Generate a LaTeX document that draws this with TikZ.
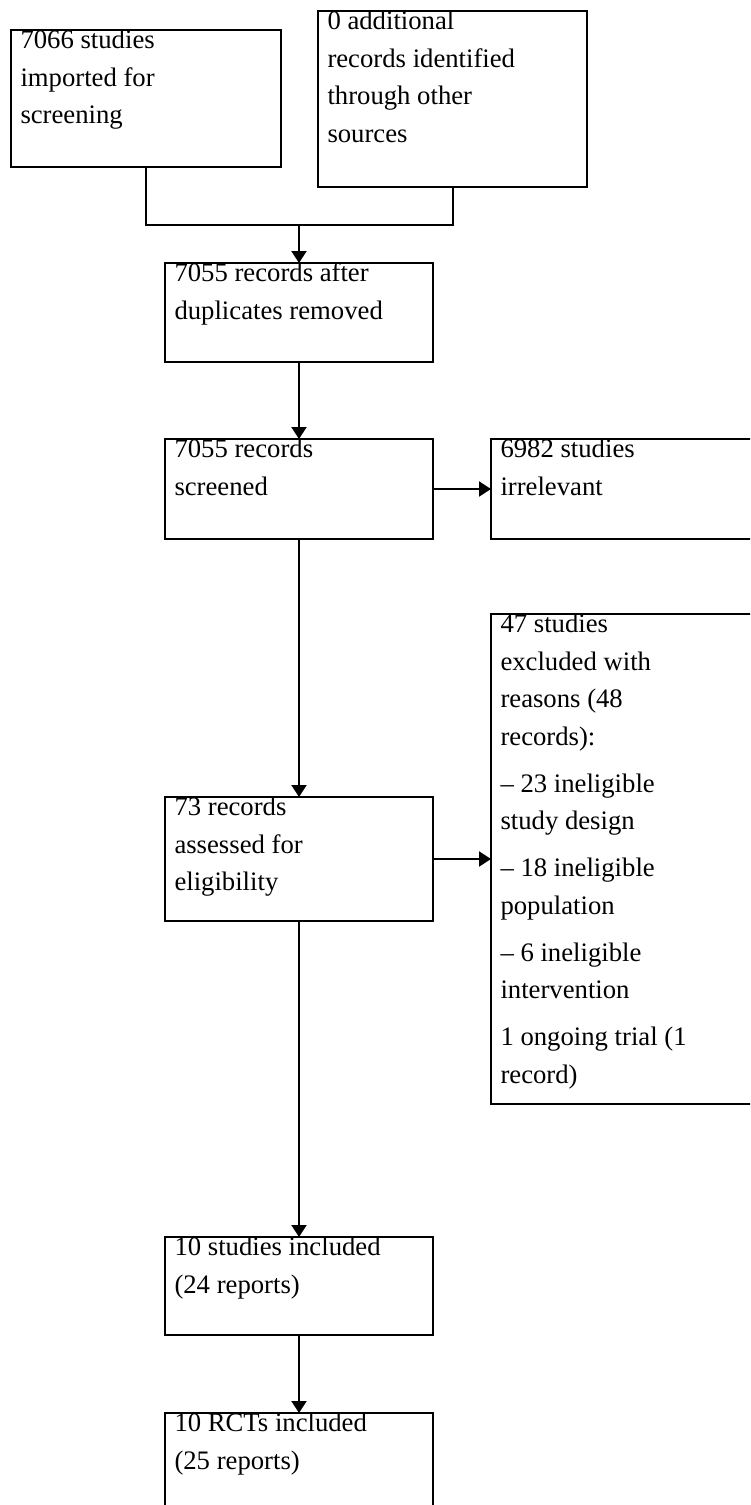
\documentclass[tikz,border=0pt]{standalone}
\usepackage{fontspec}
\setmainfont{Liberation Serif}
\usetikzlibrary{arrows.meta,positioning}
\newcommand{\boxtext}[3]{\parbox[t][#1][t]{#2}{\raggedright #3}}
\tikzset{
  box/.style={draw, line width=2pt, outer sep=0pt, inner xsep=9.5pt,
              inner ysep=0pt, font=\fontsize{26.7}{37.5}\selectfont},
  link/.style={line width=2pt},
  flow/.style={-{Triangle[length=12pt, width=15pt]}, line width=2pt},
}

\begin{document}
\begin{tikzpicture}[x=1pt, y=-1pt]
  \clip (0,0) rectangle (750,1505);
  % sources
  \node[box, anchor=north west] (imp) at (11,30)
    {\boxtext{137pt}{251pt}{7066 studies\\imported for\\screening}};
  \node[box, anchor=north west] (oth) at (318,11)
    {\boxtext{176pt}{250pt}{0 additional\\records identified\\through other\\sources}};
  % main column
  \node[box, anchor=north west] (dup) at (165,263)
    {\boxtext{99pt}{249pt}{7055 records after\\duplicates removed}};
  \node[box, below=77pt of dup] (scr)
    {\boxtext{100pt}{249pt}{7055 records\\screened}};
  \node[box, below=258pt of scr] (elig)
    {\boxtext{124pt}{249pt}{73 records\\assessed for\\eligibility}};
  \node[box, below=316pt of elig] (incl)
    {\boxtext{98pt}{249pt}{10 studies included\\(24 reports)}};
  \node[box, below=78pt of incl] (rct)
    {\boxtext{99pt}{249pt}{10 RCTs included\\(25 reports)}};
  % exclusions
  \node[box, right=58pt of scr] (irr)
    {\boxtext{100pt}{249pt}{6982 studies\\irrelevant}};
  \node[box, below=75pt of irr] (excl)
    {\boxtext{490pt}{249pt}{47 studies\\excluded with\\reasons (48\\records):\\[9.5pt]
     – 23 ineligible\\study design\\[9.5pt]
     – 18 ineligible\\population\\[9.5pt]
     – 6 ineligible\\intervention\\[9.5pt]
     1 ongoing trial (1\\record)}};
  % connectors
  \coordinate[above=38pt of dup] (join);
  \draw[link] (imp.south) |- (join) -| (oth.south);
  \draw[flow] (join) -- (dup.north);
  \draw[flow] (dup) -- (scr);
  \draw[flow] (scr) -- (irr);
  \draw[flow] (scr) -- (elig);
  \draw[flow] (elig.east) -- (elig.east -| excl.west);
  \draw[flow] (elig) -- (incl);
  \draw[flow] (incl) -- (rct);
\end{tikzpicture}
\end{document}
